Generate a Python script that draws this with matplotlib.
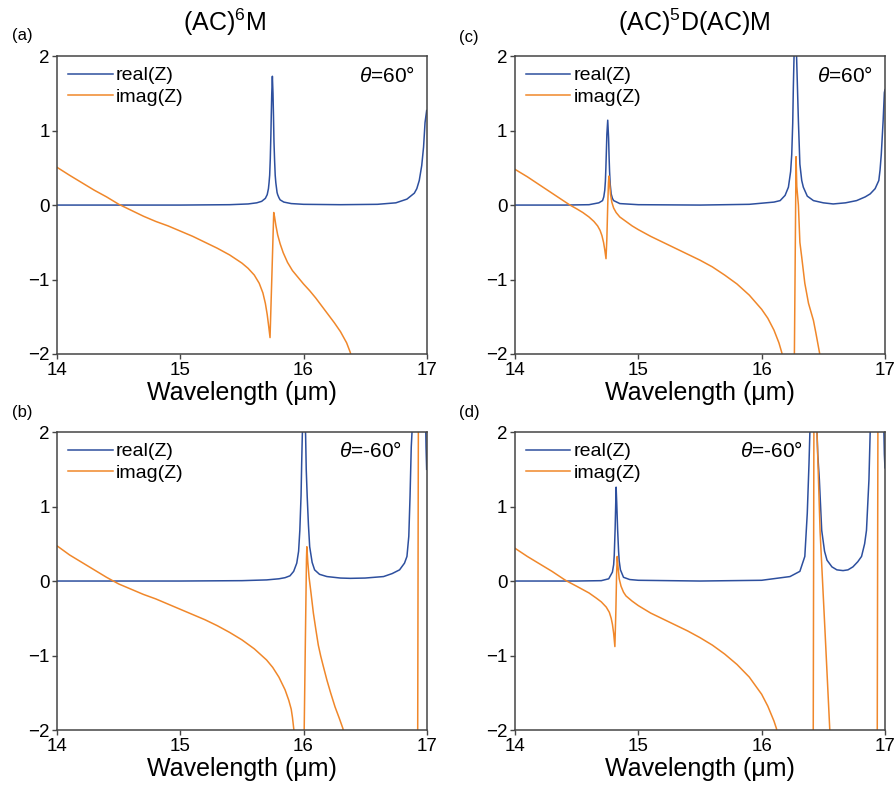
import matplotlib
matplotlib.use('Agg')
import matplotlib.pyplot as plt

plt.rcParams['font.family'] = ['Liberation Sans', 'DejaVu Sans']
plt.rcParams['mathtext.fontset'] = 'custom'
plt.rcParams['mathtext.rm'] = 'Liberation Sans'
plt.rcParams['mathtext.it'] = 'Liberation Sans:italic'

# ---- data (wavelength in um, Z values) ----
# (a) (AC)^6M, theta = 60
a_real_w = [14.0, 14.5, 15.0, 15.4, 15.55, 15.62, 15.66, 15.69, 15.705, 15.715, 15.72, 15.725,
            15.73, 15.735, 15.738, 15.742, 15.747, 15.752, 15.756, 15.76, 15.765, 15.77, 15.775,
            15.785, 15.79, 15.8, 15.81, 15.84, 15.9, 16.0, 16.3, 16.6, 16.75, 16.84, 16.9,
            16.92, 16.94, 16.96, 16.975, 16.987, 17.0]
a_real_v = [0.0, 0.0, 0.0, 0.005, 0.015, 0.03, 0.05, 0.09, 0.14, 0.22, 0.30, 0.4,
            0.62, 0.95, 1.2, 1.5, 1.73, 1.5, 1.2, 0.85, 0.6, 0.4, 0.3,
            0.17, 0.14, 0.1, 0.07, 0.04, 0.02, 0.01, 0.005, 0.01, 0.03, 0.08, 0.16,
            0.22, 0.33, 0.53, 0.78, 1.11, 1.27]
a_imag_w = [14.0, 14.1, 14.2, 14.3, 14.4, 14.5, 14.6, 14.7, 14.8, 14.9, 15.0, 15.1, 15.2,
            15.3, 15.4, 15.45, 15.5, 15.55, 15.6, 15.64, 15.67, 15.69, 15.705, 15.718, 15.728,
            15.743, 15.758, 15.765, 15.775, 15.79, 15.81, 15.835, 15.87, 15.91, 15.95, 16.0,
            16.05, 16.1, 16.15, 16.2, 16.25, 16.3, 16.35, 16.38, 16.42]
a_imag_v = [0.505, 0.40, 0.30, 0.20, 0.11, 0.01, -0.07, -0.15, -0.22, -0.28, -0.35, -0.42, -0.50,
            -0.58, -0.67, -0.725, -0.78, -0.85, -0.94, -1.05, -1.18, -1.32, -1.47, -1.64, -1.78,
            -0.95, -0.10, -0.16, -0.27, -0.40, -0.52, -0.64, -0.77, -0.88, -0.96, -1.06,
            -1.15, -1.25, -1.36, -1.47, -1.58, -1.70, -1.85, -1.98, -2.3]

# (c) (AC)^5D(AC)M, theta = 60
c_real_w = [14.0, 14.4, 14.6, 14.68, 14.71, 14.72, 14.728, 14.733, 14.737, 14.741, 14.745,
            14.752, 14.759, 14.763, 14.767, 14.772, 14.78, 14.79, 14.8, 14.85, 15.0, 15.5, 15.9,
            16.1, 16.15, 16.19, 16.217, 16.235, 16.244, 16.252, 16.257, 16.262, 16.272, 16.284,
            16.29, 16.298, 16.31, 16.325, 16.338, 16.37, 16.42, 16.5, 16.58, 16.68, 16.77,
            16.84, 16.88, 16.92, 16.95, 16.96, 16.97, 16.985, 16.995, 17.0]
c_real_v = [0.0, 0.0, 0.005, 0.03, 0.06, 0.11, 0.2, 0.32, 0.5, 0.72, 0.95,
            1.14, 0.9, 0.65, 0.45, 0.28, 0.15, 0.09, 0.06, 0.02, 0.005, 0.0, 0.01,
            0.04, 0.06, 0.13, 0.24, 0.45, 0.68, 1.1, 1.58, 1.95, 2.6, 1.95,
            1.6, 1.13, 0.55, 0.33, 0.24, 0.12, 0.06, 0.03, 0.015, 0.03, 0.06,
            0.11, 0.15, 0.22, 0.33, 0.47, 0.68, 1.13, 1.51, 1.55]
c_imag_w = [14.0, 14.1, 14.2, 14.3, 14.4, 14.446, 14.5, 14.55, 14.6, 14.64, 14.67, 14.69,
            14.705, 14.718, 14.728, 14.738, 14.745, 14.752, 14.758, 14.762, 14.768, 14.775,
            14.785, 14.80, 14.82, 14.85, 14.9, 14.95, 15.0, 15.1, 15.2, 15.3, 15.4, 15.5, 15.6,
            15.7, 15.8, 15.9, 16.0, 16.05, 16.1, 16.14, 16.163, 16.2, 16.264, 16.279, 16.285,
            16.298, 16.31, 16.325, 16.35, 16.38, 16.42, 16.44, 16.47, 16.5]
c_imag_v = [0.48, 0.38, 0.27, 0.16, 0.05, 0.0, -0.05, -0.10, -0.16, -0.22, -0.28, -0.34,
            -0.41, -0.50, -0.60, -0.72, -0.45, 0.0, 0.30, 0.39, 0.28, 0.14,
            0.04, -0.04, -0.10, -0.16, -0.22, -0.28, -0.33, -0.42, -0.50, -0.58, -0.66, -0.74, -0.83,
            -0.94, -1.06, -1.21, -1.40, -1.52, -1.68, -1.85, -1.98, -2.3, -2.3, 0.65, 0.25,
            0.0, -0.50, -0.70, -1.05, -1.32, -1.55, -1.72, -1.99, -2.3]

# (b) (AC)^6M, theta = -60
b_real_w = [14.0, 14.5, 15.0, 15.5, 15.7, 15.8, 15.85, 15.89, 15.92, 15.945, 15.96, 15.97,
            15.98, 15.985, 15.99, 16.004, 16.017, 16.022, 16.03, 16.04, 16.05, 16.07, 16.09,
            16.13, 16.19, 16.3, 16.38, 16.5, 16.65, 16.72, 16.78, 16.82, 16.84, 16.855, 16.865,
            16.875, 16.9, 16.95, 16.99, 16.995, 17.0]
b_real_v = [0.0, 0.0, 0.0, 0.005, 0.015, 0.03, 0.045, 0.07, 0.13, 0.24, 0.4, 0.68,
            1.15, 1.58, 1.95, 2.6, 1.95, 1.5, 1.13, 0.75, 0.46, 0.25, 0.15,
            0.09, 0.06, 0.04, 0.036, 0.04, 0.06, 0.1, 0.15, 0.24, 0.33, 0.6, 1.13,
            1.8, 2.6, 2.6, 2.3, 1.8, 1.5]
b_imag_w = [14.0, 14.1, 14.2, 14.3, 14.4, 14.455, 14.5, 14.6, 14.7, 14.8, 14.9, 15.0, 15.1,
            15.2, 15.3, 15.4, 15.5, 15.6, 15.7, 15.75, 15.8, 15.85, 15.88, 15.9, 15.91, 15.917,
            15.925, 15.94, 16.003, 16.015, 16.024, 16.027, 16.035, 16.045, 16.06, 16.08, 16.1,
            16.12, 16.14, 16.16, 16.19, 16.22, 16.256, 16.29, 16.32, 16.35, 16.927, 16.933]
b_imag_v = [0.47, 0.35, 0.25, 0.15, 0.05, 0.0, -0.04, -0.11, -0.18, -0.24, -0.31, -0.38, -0.45,
            -0.52, -0.60, -0.69, -0.79, -0.91, -1.06, -1.16, -1.29, -1.46, -1.60, -1.72, -1.83, -1.93,
            -2.05, -2.3, -2.3, -0.8, 0.3, 0.46, 0.25, 0.05, -0.15, -0.43, -0.65,
            -0.86, -1.01, -1.14, -1.33, -1.50, -1.69, -1.84, -1.98, -2.3, -2.3, 2.3]

# (d) (AC)^5D(AC)M, theta = -60
d_real_w = [14.0, 14.5, 14.7, 14.76, 14.79, 14.8, 14.805, 14.812, 14.817, 14.82, 14.825, 14.832,
            14.84, 14.845, 14.855, 14.88, 14.93, 15.0, 15.5, 16.0, 16.23, 16.31, 16.35, 16.37,
            16.384, 16.392, 16.42, 16.448, 16.455, 16.468, 16.487, 16.51, 16.53, 16.57, 16.61,
            16.66, 16.70, 16.74, 16.78, 16.81, 16.835, 16.85, 16.87, 16.88, 16.9, 16.98, 16.99,
            16.995, 17.0]
d_real_v = [0.0, 0.0, 0.005, 0.03, 0.12, 0.22, 0.35, 0.7, 1.05, 1.26, 1.05, 0.7,
            0.4, 0.27, 0.15, 0.05, 0.02, 0.01, 0.0, 0.01, 0.06, 0.13, 0.33, 0.91,
            1.58, 2.05, 2.6, 2.05, 1.7, 1.36, 0.68, 0.40, 0.28, 0.19, 0.15,
            0.14, 0.15, 0.19, 0.26, 0.33, 0.5, 0.68, 1.36, 2.0, 2.6, 2.6, 2.1,
            1.7, 1.52]
d_imag_w = [14.0, 14.1, 14.2, 14.3, 14.4, 14.42, 14.5, 14.6, 14.66, 14.7, 14.74, 14.765, 14.78,
            14.79, 14.80, 14.81, 14.818, 14.824, 14.829, 14.835, 14.845, 14.86, 14.88, 14.9,
            14.95, 15.0, 15.1, 15.2, 15.3, 15.4, 15.5, 15.6, 15.7, 15.8, 15.9, 16.0, 16.05, 16.1,
            16.12, 16.15, 16.418, 16.424, 16.444, 16.449, 16.474, 16.514, 16.552, 16.56,
            16.937, 16.943]
d_imag_v = [0.44, 0.33, 0.23, 0.13, 0.02, 0.0, -0.07, -0.16, -0.23, -0.28, -0.35, -0.42, -0.50,
            -0.58, -0.70, -0.88, -0.4, 0.1, 0.33, 0.2, 0.03, -0.07, -0.15, -0.20,
            -0.27, -0.33, -0.43, -0.51, -0.59, -0.67, -0.76, -0.86, -0.98, -1.12, -1.29, -1.52, -1.68, -1.88,
            -1.98, -2.3, -2.3, 2.3, 2.3, 1.98, 0.66, -0.68, -1.98, -2.3,
            -2.3, 2.3]

panels = [
    ('(a)', a_real_w, a_real_v, a_imag_w, a_imag_v, r'$\theta$=60°', 0.968),
    ('(c)', c_real_w, c_real_v, c_imag_w, c_imag_v, r'$\theta$=60°', 0.968),
    ('(b)', b_real_w, b_real_v, b_imag_w, b_imag_v, r'$\theta$=-60°', 0.932),
    ('(d)', d_real_w, d_real_v, d_imag_w, d_imag_v, r'$\theta$=-60°', 0.778),
]
positions = [
    [0.064, 0.5525, 0.4127, 0.3765],
    [0.5754, 0.5525, 0.4134, 0.3765],
    [0.064, 0.0771, 0.4127, 0.3767],
    [0.5754, 0.0771, 0.4134, 0.3767],
]
label_xy = [(0.025, 0.955), (0.524, 0.952), (0.025, 0.479), (0.524, 0.479)]

blue = '#2d4f9e'
orange = '#f0872a'
spine_col = '#454545'

fig = plt.figure(figsize=(8.95, 7.91), dpi=100)

for (lab, rw, rv, iw, iv, theta, tx), pos, lxy in zip(panels, positions, label_xy):
    ax = fig.add_axes(pos)
    ax.plot(rw, rv, color=blue, lw=1.1, label='real(Z)')
    ax.plot(iw, iv, color=orange, lw=1.1, label='imag(Z)')
    ax.set_xlim(14, 17)
    ax.set_ylim(-2, 2)
    ax.set_xticks([14, 15, 16, 17])
    ax.set_yticks([-2, -1, 0, 1, 2])
    ax.tick_params(direction='out', length=3.5, width=1.0, labelsize=13.5,
                   color=spine_col, pad=2)
    for s in ax.spines.values():
        s.set_color(spine_col)
        s.set_linewidth(1.1)
    ax.set_xlabel('Wavelength (μm)', fontsize=18, labelpad=2)
    ax.legend(loc='upper left', frameon=False, fontsize=14, handlelength=2.3,
              handletextpad=0.15, labelspacing=0.2, borderaxespad=0.35,
              borderpad=0.2)
    ax.text(tx, 0.935, theta, transform=ax.transAxes, ha='right', va='center',
            fontsize=15)
    fig.text(lxy[0], lxy[1], lab, ha='center', va='center', fontsize=12)

fig.text(0.251, 0.972, '(AC)$^6$M', ha='center', va='center', fontsize=18)
fig.text(0.775, 0.972, '(AC)$^5$D(AC)M', ha='center', va='center', fontsize=18)

fig.savefig('out.png', dpi=100)
